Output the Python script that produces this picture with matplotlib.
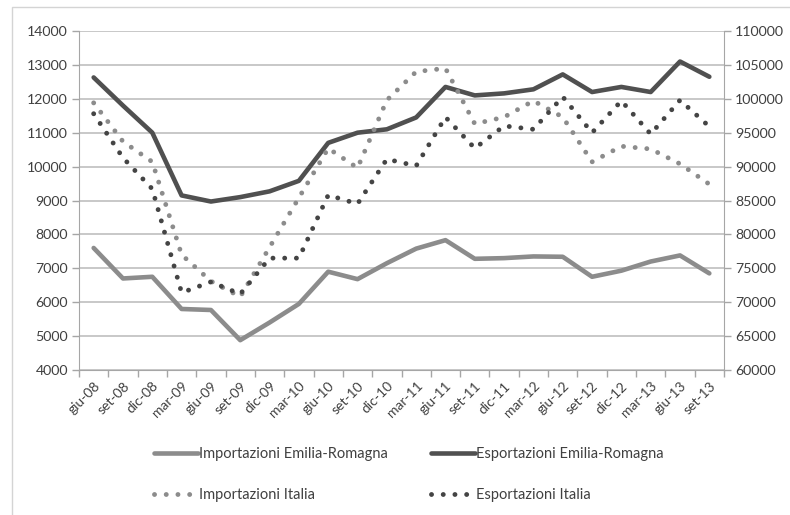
import matplotlib
matplotlib.use("Agg")
import matplotlib.pyplot as plt
from matplotlib.patches import Rectangle

plt.rcParams['font.family'] = ['Lato', 'DejaVu Sans']

# trimestri
mesi = ['giu-08', 'set-08', 'dic-08', 'mar-09', 'giu-09', 'set-09', 'dic-09', 'mar-10',
        'giu-10', 'set-10', 'dic-10', 'mar-11', 'giu-11', 'set-11', 'dic-11', 'mar-12',
        'giu-12', 'set-12', 'dic-12', 'mar-13', 'giu-13', 'set-13']

# Emilia-Romagna (asse sinistro)
imp_er = [7600, 6700, 6750, 5800, 5770, 4880, 5400, 5950, 6900, 6680, 7150, 7580,
          7830, 7280, 7300, 7350, 7340, 6750, 6930, 7200, 7380, 6850]
esp_er = [12630, 11800, 11000, 9150, 8970, 9100, 9270, 9580, 10700, 11000, 11100, 11450,
          12350, 12100, 12160, 12280, 12720, 12200, 12350, 12200, 13100, 12650]

# Italia (asse destro)
imp_it = [99400, 93700, 90700, 77000, 73100, 70800, 78100, 85400, 92700, 89800, 99800, 104000,
          104500, 96300, 97300, 99700, 97300, 90700, 93000, 92600, 90400, 87400]
esp_it = [97800, 91300, 86700, 71400, 73000, 71200, 76500, 76500, 85800, 84500, 91100, 90100,
          97300, 92700, 96000, 95500, 100300, 95000, 99700, 94800, 99800, 95900]

c_light = '#8c8c8c'
c_dark = '#505050'
c_dots_dark = '#444444'
c_grid = '#c4c4c4'
c_text = '#404040'

fig = plt.figure(figsize=(7.9, 5.15), dpi=100)
fig.patches.append(Rectangle((12 / 790, -0.05), 1.1, 1 - 7 / 515 + 0.05,
                             transform=fig.transFigure, fill=False,
                             edgecolor='#d4d4d4', linewidth=1.0))

ax = fig.add_axes([79 / 790, 1 - 370 / 515, (724 - 79) / 790, (370 - 31) / 515])
ax2 = ax.twinx()

x = list(range(len(mesi)))
l1, = ax.plot(x, imp_er, color=c_light, lw=3.3, solid_joinstyle='round',
              solid_capstyle='round', label='Importazioni Emilia-Romagna', zorder=3)
l2, = ax.plot(x, esp_er, color=c_dark, lw=3.3, solid_joinstyle='round',
              solid_capstyle='round', label='Esportazioni Emilia-Romagna', zorder=3)
l3, = ax2.plot(x, imp_it, color=c_light, lw=3.5, linestyle=(0, (0.01, 2.4)),
               dash_capstyle='round', label='Importazioni Italia', zorder=3)
l4, = ax2.plot(x, esp_it, color=c_dots_dark, lw=3.5, linestyle=(0, (0.01, 2.4)),
               dash_capstyle='round', label='Esportazioni Italia', zorder=3)

ax.set_xlim(-0.5, len(mesi) - 0.5)
ax.set_ylim(4000, 14000)
ax.set_yticks(range(4000, 14001, 1000))
ax2.set_ylim(60000, 110000)
ax2.set_yticks(range(60000, 110001, 5000))

ax.yaxis.grid(True, color=c_grid, lw=1.3)
ax.set_axisbelow(True)

ax.set_xticks(x)
ax.set_xticklabels(mesi, rotation=45, ha='right', va='top', rotation_mode='anchor')
ax.set_xticks([i - 0.5 for i in range(len(mesi) + 1)], minor=True)
ax.tick_params(axis='x', which='major', length=0, pad=7, labelsize=10, labelcolor=c_text)
ax.tick_params(axis='x', which='minor', length=5, width=1, color='#a6a6a6', direction='out')
ax.tick_params(axis='y', length=5, width=1, color='#a6a6a6', labelsize=10.2,
               labelcolor=c_text, pad=3)
ax2.tick_params(axis='y', length=5, width=1, color='#a6a6a6', labelsize=10.2,
                labelcolor=c_text, pad=3)

for a in (ax, ax2):
    for s in a.spines.values():
        s.set_visible(False)
ax.spines['left'].set_visible(True)
ax.spines['left'].set_color('#a6a6a6')
ax.spines['bottom'].set_visible(True)
ax.spines['bottom'].set_color('#a6a6a6')
ax2.spines['right'].set_visible(True)
ax2.spines['right'].set_color('#a6a6a6')

leg = fig.legend([l1, l3, l2, l4],
                 [l1.get_label(), l3.get_label(), l2.get_label(), l4.get_label()],
                 ncol=2, loc='upper left', bbox_to_anchor=(141 / 790, 1 - 434 / 515),
                 frameon=False, fontsize=10.5, handlelength=3.0, handletextpad=0.08,
                 columnspacing=2.95, labelspacing=1.85, labelcolor=c_text)

fig.savefig('out.png', dpi=100)
